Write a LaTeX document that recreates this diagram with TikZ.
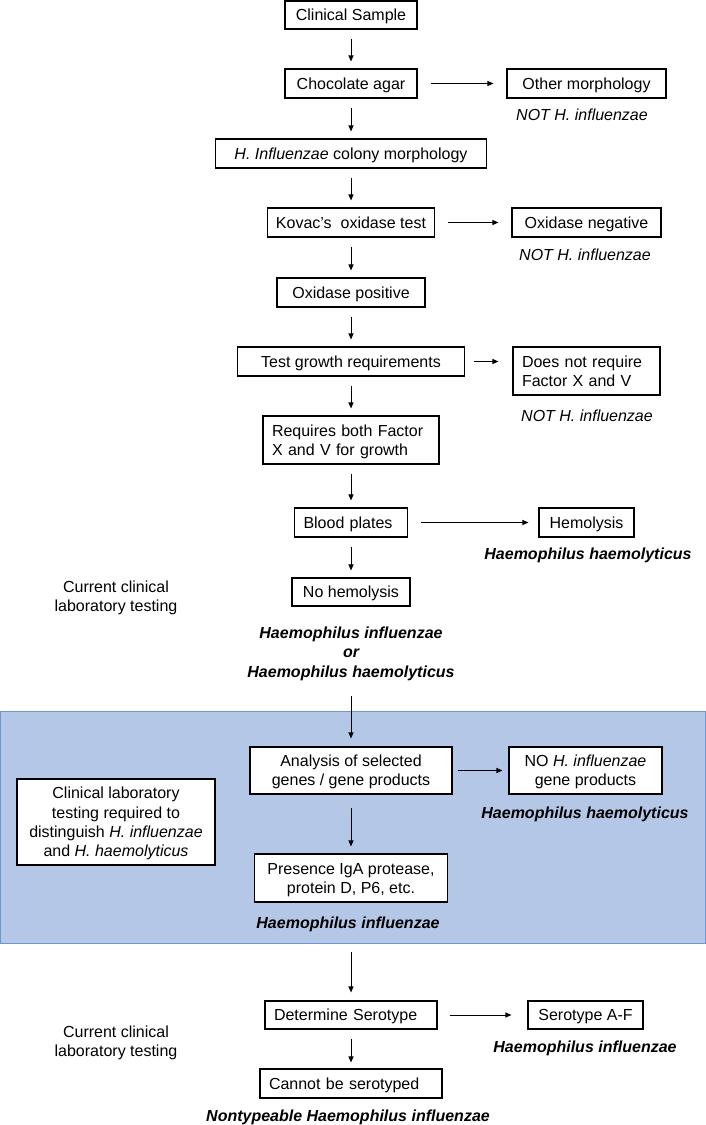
\documentclass[tikz,border=0pt]{standalone}
\usepackage{fontspec}
\setmainfont{Liberation Sans}
\usepackage{tikz}
\usetikzlibrary{arrows.meta}

\definecolor{bluefill}{RGB}{180,199,231}
\definecolor{blueedge}{RGB}{114,148,208}
\newcommand{\fsz}{\fontsize{16}{19.3}\selectfont}

\tikzset{
    box/.style={draw, line width=1.1pt, fill=white, inner sep=0pt, align=center, font=\fsz, text height=11.5pt, text depth=0pt},
    lbox/.style={draw, line width=1.1pt, fill=white, inner xsep=9pt, inner ysep=0pt, align=left, font=\fsz, text height=11.5pt, text depth=0pt},
    txt/.style={inner sep=0pt, align=center, font=\fsz, text height=30.8pt, text depth=0pt},
    nothi/.style={inner sep=0pt, font=\fsz\itshape, text height=11.5pt, text depth=0pt},
    res/.style={inner sep=0pt, align=center, font=\fsz\bfseries\itshape, text height=11.5pt, text depth=0pt},
    two/.style={text height=30.8pt},
    ltwo/.style={text depth=19.3pt},
    arr/.style={-{Triangle[length=6pt,width=5pt]}, line width=1pt, shorten <=9pt, shorten >=7pt},
    harr/.style={-{Triangle[length=6pt,width=5pt]}, line width=1pt, shorten <=13pt, shorten >=13pt}
}

\begin{document}
\begin{tikzpicture}[x=1pt,y=-1pt]
        \useasboundingbox (0,0) rectangle (706,1125);
        \draw[draw=blueedge, fill=bluefill, line width=1pt] (0.5,711) rectangle (705.5,943);

        \node[box, minimum width=132pt, minimum height=28pt] (sample) at (351,15) {Clinical Sample};
        \node[box, minimum width=132pt, minimum height=29pt] (agar) at (351,83.5) {Chocolate agar};
        \node[box, minimum width=159pt, minimum height=29pt] (other) at (586.5,83.5) {Other morphology};
        \node[nothi] (not1) at (582,115) {NOT H. influenzae};
        \node[box, minimum width=271pt, minimum height=29pt] (colony) at (351,153.5) {\textit{H. Influenzae} colony morphology};
        \node[box, minimum width=167pt, minimum height=29pt] (kovac) at (351,222.5) {Kovac’s~ oxidase test};
        \node[box, minimum width=149pt, minimum height=29pt] (oxneg) at (586.5,222.5) {Oxidase negative};
        \node[nothi] (not2) at (585,255) {NOT H. influenzae};
        \node[box, minimum width=148pt, minimum height=29pt] (oxpos) at (351,292.5) {Oxidase positive};
        \node[box, minimum width=227pt, minimum height=29pt] (growth) at (351,361.5) {Test growth requirements};
        \node[lbox, ltwo, text width=129pt, minimum height=48pt] (noreq) at (586.5,371) {Does not require\\Factor X and V};
        \node[nothi] (not3) at (587,416) {NOT H. influenzae};
        \node[lbox, ltwo, text width=158pt, minimum height=48pt] (needxv) at (351,440) {Requires both Factor\\X and V for growth};
        \node[lbox, text width=95pt, minimum height=29pt] (blood) at (351,522.5) {Blood plates};
        \node[box, minimum width=95pt, minimum height=29pt] (hemo) at (586.5,522.5) {Hemolysis};
        \node[res] (haem1) at (588,554) {Haemophilus haemolyticus};
        \node[box, minimum width=118pt, minimum height=28pt] (nohemo) at (351,592) {No hemolysis};
        \node[txt] (cur1) at (116,596.5) {Current clinical\\laboratory testing};
        \node[res, text height=50.1pt] (either) at (351,652) {Haemophilus influenzae\\or\\Haemophilus haemolyticus};

        \node[box, two, minimum width=202pt, minimum height=47pt] (genes) at (351,770.5) {Analysis of selected\\genes / gene products};
        \node[box, two, minimum width=153pt, minimum height=47pt] (nogene) at (585.5,770.5) {NO \textit{H. influenzae}\\gene products};
        \node[res] (haem2) at (585,813) {Haemophilus haemolyticus};
        \node[box, text height=69.4pt, minimum width=198pt, minimum height=86pt] (clinlab) at (116,822) {Clinical laboratory\\testing required to\\distinguish \textit{H. influenzae}\\and \textit{H. haemolyticus}};
        \node[box, two, minimum width=193pt, minimum height=48pt] (iga) at (351,878) {Presence IgA protease,\\protein D, P6, etc.};
        \node[res] (infl1) at (348,923) {Haemophilus influenzae};

        \node[lbox, text width=154pt, minimum height=28pt] (serotype) at (351,1015) {Determine Serotype};
        \node[box, minimum width=115pt, minimum height=28pt] (seraf) at (585.5,1015) {Serotype A-F};
        \node[res] (infl2) at (585,1047) {Haemophilus influenzae};
        \node[txt] (cur2) at (116,1041.5) {Current clinical\\laboratory testing};
        \node[lbox, text width=164pt, minimum height=29pt] (nosero) at (351,1083.5) {Cannot be serotyped};
        \node[res] (nontyp) at (348,1116) {Nontypeable Haemophilus influenzae};

        \draw[arr] (sample) -- (agar);
        \draw[arr] (agar) -- (colony);
        \draw[arr] (colony) -- (kovac);
        \draw[arr] (kovac) -- (oxpos);
        \draw[arr] (oxpos) -- (growth);
        \draw[arr] (growth) -- (needxv);
        \draw[arr] (needxv) -- (blood);
        \draw[arr] (blood) -- (nohemo);
        \draw[arr, shorten <=19pt, shorten >=8pt] (either.south) -- (genes.north);
        \draw[arr, shorten <=13pt] (genes) -- (iga);
        \draw[arr, shorten <=23pt, shorten >=8pt] (infl1.south -| serotype.north) -- (serotype.north);
        \draw[arr, shorten >=6pt] (serotype) -- (nosero);

        \draw[harr] (agar) -- (other);
        \draw[harr] (kovac) -- (oxneg);
        \draw[harr, shorten <=9pt, shorten >=14pt] (growth) -- (growth -| noreq.west);
        \draw[harr, shorten >=10pt] (blood) -- (hemo);
        \draw[harr, shorten <=5pt, shorten >=6pt] (genes) -- (nogene);
        \draw[harr, shorten <=12pt, shorten >=16pt] (serotype) -- (seraf);
    \end{tikzpicture}
\end{document}
